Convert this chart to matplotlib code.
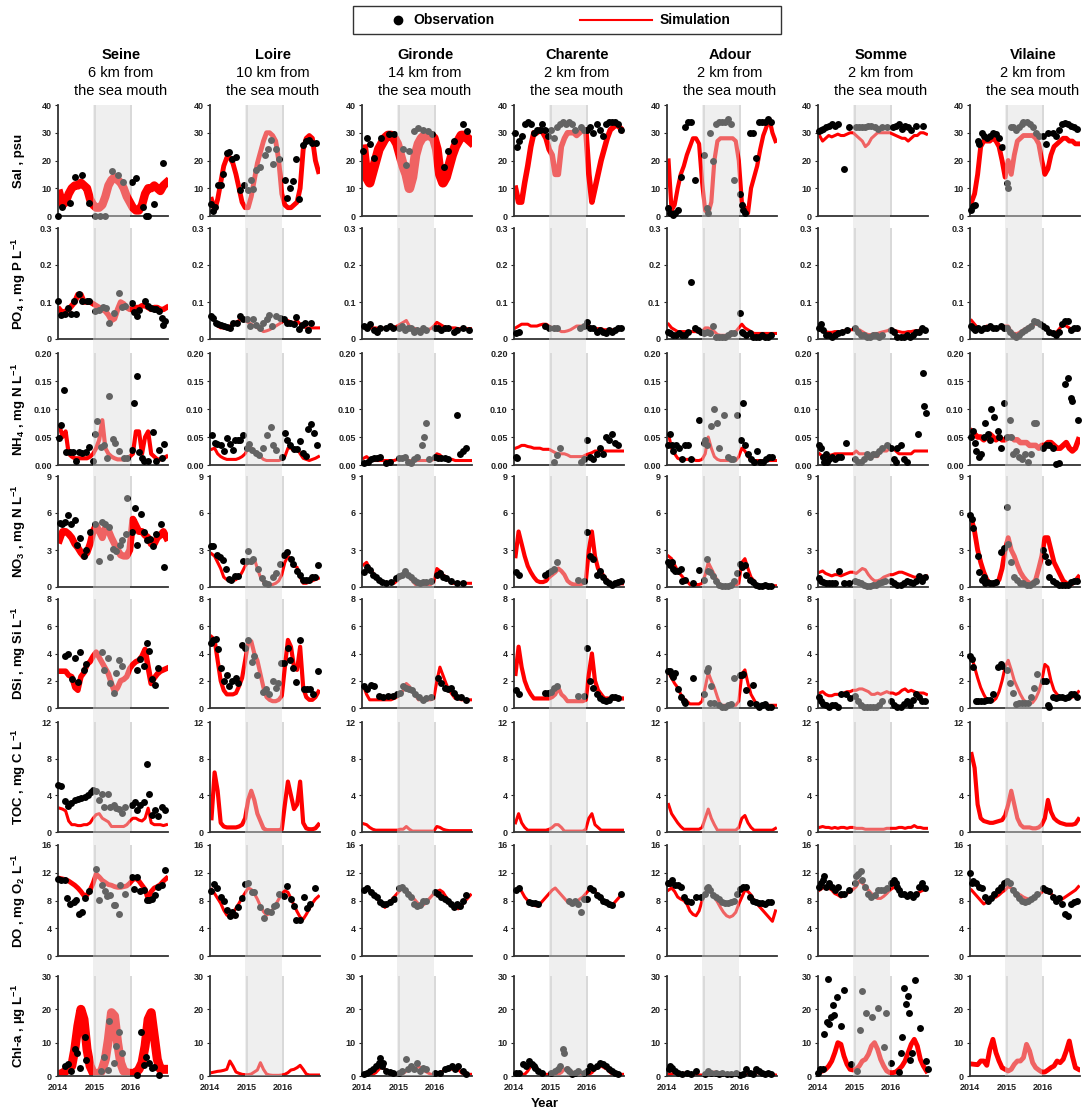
import numpy as np
import matplotlib.pyplot as plt
import matplotlib.transforms as mtransforms
from matplotlib.patches import Rectangle
from matplotlib.lines import Line2D

plt.rcParams['font.family'] = ['Liberation Sans', 'DejaVu Sans']
plt.rcParams['font.weight'] = 'bold'
plt.rcParams['mathtext.fontset'] = 'custom'
plt.rcParams['mathtext.rm'] = 'Liberation Sans:bold'
plt.rcParams['mathtext.bf'] = 'Liberation Sans:bold'
plt.rcParams['mathtext.default'] = 'bf'

# ---- stations / variables ----
stations = ["Seine", "Loire", "Gironde", "Charente", "Adour", "Somme", "Vilaine"]
keys = ["seine", "loire", "gironde", "charente", "adour", "somme", "vilaine"]
distance = ["6 km from", "10 km from", "14 km from", "2 km from", "2 km from", "2 km from", "2 km from"]
variables = ["sal", "po4", "nh4", "no3", "dsi", "toc", "do", "chl"]
ylabels = ["Sal , psu", "PO$_4$ , mg P L$^{-1}$", "NH$_4$ , mg N L$^{-1}$", "NO$_3$ , mg N L$^{-1}$",
           "DSi , mg Si L$^{-1}$", "TOC , mg C L$^{-1}$", "DO , mg O$_2$ L$^{-1}$", "Chl-a , µg L$^{-1}$"]
ymax = [40, 0.3, 0.2, 9, 8, 12, 16, 30]
yticks = [[0, 10, 20, 30, 40], [0, 0.1, 0.2, 0.3], [0, 0.05, 0.10, 0.15, 0.20], [0, 3, 6, 9],
          [0, 2, 4, 6, 8], [0, 4, 8, 12], [0, 4, 8, 12, 16], [0, 10, 20, 30]]
yticklabels = [["0", "10", "20", "30", "40"], ["0", "0.1", "0.2", "0.3"], ["0.00", "0.05", "0.10", "0.15", "0.20"],
               ["0", "3", "6", "9"], ["0", "2", "4", "6", "8"], ["0", "4", "8", "12"],
               ["0", "4", "8", "12", "16"], ["0", "10", "20", "30"]]
year_ticks = [0, 12, 24]          # months since Jan 2014
year_labels = ["2014", "2015", "2016"]

# simulation: monthly values Jan 2014 .. Dec 2016
# observations: *_t = months since Jan 2014, *_o = value
seine_sal = [8, 4, 5, 8, 10, 11, 11, 12, 11, 10, 6, 4, 3, 3, 4, 7, 11, 13, 14, 13, 12, 10, 7, 5, 3, 2, 2, 4, 8, 10, 10, 11, 10, 9, 11, 12]
seine_sal_t = [0, 1.4, 3.8, 5.6, 8, 10, 12, 13.6, 15.5, 17.7, 19.6, 21.4, 24.1, 25.6, 27.7, 28.8, 29.3, 31.5, 34.5]
seine_sal_o = [0, 3.3, 4.8, 14, 14.7, 4.8, 0, 0, 0, 16.3, 14.6, 12.3, 12.3, 13.6, 3.2, 0, 0, 4.3, 19]
seine_po4 = [0.08, 0.07, 0.075, 0.08, 0.09, 0.1, 0.12, 0.12, 0.1, 0.1, 0.1, 0.095, 0.09, 0.085, 0.08, 0.075, 0.065, 0.05,
             0.055, 0.08, 0.1, 0.095, 0.085, 0.08, 0.08, 0.085, 0.085, 0.09, 0.09, 0.085, 0.08, 0.085, 0.085, 0.08, 0.08, 0.085]
seine_po4_t = [0, 1.1, 2.2, 3.3, 4.1, 5.1, 6, 6.8, 8, 9.5, 10.3, 12.2, 13.3, 14.7, 15.8, 16.6, 18.2, 19.8, 20.8, 22, 24.1,
               24.9, 26, 26.6, 28.5, 29.6, 30.4, 31.3, 32, 33.2, 33.9, 34.5, 35.1]
seine_po4_o = [0.102, 0.065, 0.068, 0.085, 0.068, 0.102, 0.068, 0.122, 0.102, 0.102, 0.102, 0.077, 0.078, 0.087, 0.085,
               0.042, 0.071, 0.125, 0.087, 0.09, 0.098, 0.074, 0.062, 0.078, 0.102, 0.09, 0.085, 0.08, 0.08, 0.077, 0.058,
               0.038, 0.048]
seine_nh4 = [0.07, 0.05, 0.06, 0.02, 0.015, 0.012, 0.012, 0.012, 0.012, 0.012, 0.015, 0.02, 0.03, 0.045, 0.08, 0.03, 0.02,
             0.015, 0.012, 0.01, 0.01, 0.01, 0.01, 0.015, 0.02, 0.06, 0.06, 0.02, 0.05, 0.06, 0.02, 0.015, 0.01, 0.01, 0.012, 0.015]
seine_nh4_t = [0.3, 1.1, 2, 2.7, 3.8, 4.9, 6, 6.8, 8, 9, 10.1, 11.4, 12.2, 12.9, 14.1, 15.2, 16, 16.6, 17.9, 18.8, 19.8,
               21.7, 22.6, 24.2, 25, 25.7, 26.6, 27.4, 28.1, 29.3, 31, 32, 32.9, 33.9, 34.8]
seine_nh4_o = [0.048, 0.072, 0.134, 0.024, 0.024, 0.024, 0.007, 0.024, 0.021, 0.024, 0.032, 0.007, 0.055, 0.078, 0.032,
               0.036, 0.012, 0.123, 0.046, 0.04, 0.025, 0.012, 0.012, 0.027, 0.111, 0.159, 0.024, 0.012, 0.008, 0.007,
               0.059, 0.007, 0.026, 0.012, 0.037]
seine_no3 = [3.8, 4.5, 4.5, 4.3, 4.0, 3.5, 3.2, 2.8, 2.5, 2.8, 3.5, 4.5, 5.0, 4.5, 4.0, 4.8, 4.6, 4.0, 3.5, 3.0, 2.6, 2.5,
             2.5, 3.0, 5.5, 5.0, 4.5, 4.5, 4.2, 4.0, 3.5, 3.5, 4.0, 4.2, 4.5, 4.0]
seine_no3_t = [0.5, 1.3, 2.2, 3.4, 4.2, 5.4, 6.3, 7.3, 8.4, 9.2, 10.5, 12, 13.3, 14.5, 15.5, 16.6, 17, 18, 19, 20.2, 21.1,
               22.3, 22.7, 24.3, 25.1, 26, 27, 28.2, 29.1, 30, 31, 32, 33.7, 34.8]
seine_no3_o = [5.2, 5.1, 5.3, 5.8, 5.1, 5.4, 3.4, 4, 2.5, 3, 4.5, 5.1, 2.1, 5.3, 5.1, 4.9, 2.4, 3.1, 2.9, 3.4, 3.8, 4.3,
               7.2, 4.5, 6.4, 3.4, 5.9, 4.5, 3.8, 3.9, 3.3, 4.3, 5.1, 1.6]
seine_dsi = [2.7, 2.7, 2.7, 2.4, 2.3, 1.5, 1.3, 2.3, 2.6, 3.2, 3.4, 3.8, 4.1, 3.7, 3.3, 2.9, 2.5, 1.8, 1.2, 1.5, 2.0, 2.1,
             2.3, 2.9, 3.2, 3.4, 3.5, 3.8, 4.3, 3.0, 1.8, 2.2, 2.5, 2.7, 2.8, 2.9]
seine_dsi_t = [2.4, 3.3, 4.6, 5.7, 6.5, 7.3, 8.4, 9.2, 14.3, 15.2, 16.3, 17.1, 18.2, 19, 20, 20.9, 26, 26.8, 28, 29, 29.8,
               30.7, 31.7, 32.6]
seine_dsi_o = [3.85, 4.0, 2.1, 3.7, 1.9, 4.1, 2.8, 3.2, 4.1, 2.8, 3.7, 1.8, 1.1, 2.6, 3.5, 3.1, 2.8, 3.6, 3.1, 4.8, 4.2,
               2.1, 1.7, 2.9]
seine_toc = [2.6, 2.5, 2.3, 1.2, 0.8, 0.8, 0.7, 0.7, 0.8, 0.8, 1.0, 1.5, 1.9, 2.0, 1.5, 1.3, 1.1, 0.6, 0.6, 0.6, 0.6, 0.6,
             0.8, 1.2, 1.5, 1.5, 1.3, 1.2, 1.5, 2.6, 1.0, 0.8, 0.8, 0.8, 0.7, 0.8]
seine_toc_t = [0, 1.1, 2.2, 3.3, 4.3, 5.4, 6.5, 7.6, 8.7, 9.8, 10.9, 11.6, 12.5, 13.3, 14.3, 15.2, 16.3, 17.1, 18.2, 19, 20,
               20.9, 22, 24.1, 25.2, 26, 26.8, 28, 29, 29.8, 30.9, 31.7, 32.6, 33.9, 35]
seine_toc_o = [5.1, 5.0, 3.4, 2.8, 3.2, 3.5, 3.6, 3.7, 3.8, 4.0, 4.4, 4.6, 4.5, 3.5, 4.1, 2.7, 4.2, 2.7, 2.9, 2.6, 2.5, 2.1,
               2.7, 2.9, 3.3, 2.4, 2.9, 3.3, 7.4, 4.2, 1.9, 2.4, 1.8, 2.7, 2.4]
seine_do = [11.2, 11.1, 11.0, 10.8, 10.5, 10.2, 9.8, 9.3, 8.7, 8.8, 9.5, 10.5, 11.8, 11.4, 10.9, 10.6, 10.3, 10.2, 10.0,
            9.9, 9.9, 10.0, 10.1, 10.5, 11.0, 11.2, 10.8, 10.2, 9.6, 8.2, 9.3, 9.8, 10.0, 10.3, 10.8, 11.2]
seine_do_t = [0, 1.1, 2.2, 2.9, 4, 5.1, 5.9, 7, 8, 8.9, 10, 12.5, 13.3, 14.3, 15.4, 16, 17.1, 18.2, 18.7, 19.8, 20.3, 22,
              24.1, 25, 26, 26.8, 28, 29, 29.8, 30.7, 31.7, 32.6, 33.9, 35]
seine_do_o = [11.1, 11, 10.9, 8.3, 7.5, 7.8, 8.1, 6, 6.4, 8.3, 9.4, 12.6, 8.1, 10.3, 9.4, 8.6, 8.8, 7.3, 7.3, 6.1, 10.2,
              8.9, 11.4, 9.7, 11.4, 9.4, 9.5, 8.1, 8.1, 8.2, 8.8, 9.9, 10.3, 12.4]
seine_chl = [0.5, 0.8, 1.5, 2.5, 3, 8, 15, 20, 17, 8, 3, 1, 0.5, 0.5, 2, 5, 11, 19, 18, 10, 4, 1.5, 1, 0.8, 0.8, 1, 2, 4,
             9, 17, 19, 12, 5, 2, 2, 2]
seine_chl_t = [2.2, 3.3, 4.3, 5.4, 6.3, 7.3, 8.7, 9.2, 14.1, 15.2, 16.3, 16.8, 18.2, 19, 19.9, 21, 26, 27.2, 28, 28.8, 29.9,
               30.8, 31.5, 33]
seine_chl_o = [3, 3.6, 1.6, 8, 7, 2.3, 11.8, 4.8, 1.6, 5.8, 1.8, 16.6, 3.8, 9, 13.3, 6.8, 0.3, 13.3, 3.3, 5.8, 4, 2.3,
               2.6, 0.3]

loire_sal = [6, 2, 6, 12, 18, 21, 21, 19, 15, 10, 5, 3, 3, 7, 13, 19, 23, 27, 30, 30, 29, 27, 20, 8, 4, 3, 3, 4, 5, 10,
             24, 28, 29, 28, 20, 16]
loire_sal_t = [0.2, 0.9, 1.6, 2.7, 3.5, 4.3, 5.4, 6.3, 7.3, 8.5, 9.8, 11.2, 12.5, 13.3, 14.1, 15, 16.5, 17.9, 19, 19.8,
               20.7, 21.6, 22.7, 24.5, 25.2, 26.1, 27.2, 28.3, 29.2, 30.4, 31.5, 32.4, 33.5, 34.6]
loire_sal_o = [4.5, 1.8, 3.2, 11.1, 11.1, 15.2, 22.7, 22.9, 20.7, 21.3, 9.3, 11.1, 9.3, 12.8, 9.8, 16.4, 17.7, 22.1, 24.2,
               27.5, 18.6, 24.2, 20.7, 12.9, 6.6, 10.1, 12.5, 20.5, 6.2, 25.7, 26.9, 27.5, 26.3, 26.3]
loire_po4 = [0.06, 0.05, 0.035, 0.03, 0.03, 0.03, 0.035, 0.04, 0.045, 0.05, 0.055, 0.05, 0.045, 0.04, 0.035, 0.03, 0.025,
             0.02, 0.022, 0.025, 0.03, 0.035, 0.04, 0.045, 0.05, 0.05, 0.045, 0.045, 0.05, 0.04, 0.035, 0.03, 0.03, 0.03,
             0.03, 0.03]
loire_po4_t = [0.2, 1.1, 2, 2.7, 3.5, 4.6, 5.4, 6.5, 7.6, 8.7, 9.8, 10.9, 12.2, 13, 14.1, 15.2, 16.5, 17.4, 18.5, 19.3,
               20.4, 21.6, 22.8, 24.1, 25.2, 26.3, 27.4, 28, 29, 30.2, 31, 32, 33.2]
loire_po4_o = [0.061, 0.058, 0.044, 0.04, 0.037, 0.035, 0.033, 0.031, 0.042, 0.042, 0.061, 0.053, 0.055, 0.036, 0.055,
               0.037, 0.031, 0.042, 0.055, 0.064, 0.035, 0.061, 0.058, 0.053, 0.044, 0.042, 0.04, 0.06, 0.028, 0.037,
               0.044, 0.024, 0.042]
loire_nh4 = [0.028, 0.03, 0.02, 0.015, 0.012, 0.01, 0.01, 0.01, 0.01, 0.012, 0.015, 0.02, 0.03, 0.03, 0.025, 0.02, 0.015,
             0.01, 0.008, 0.008, 0.008, 0.008, 0.008, 0.01, 0.015, 0.03, 0.03, 0.025, 0.03, 0.02, 0.012, 0.01, 0.008, 0.01,
             0.012, 0.015]
loire_nh4_t = [0.5, 1.6, 2.4, 3.5, 4.6, 5.4, 6.5, 7.4, 8.2, 9, 9.8, 10.9, 12.2, 12.8, 13.9, 15, 16.1, 17.4, 18.5, 19.8,
               20.7, 21.7, 23.4, 24.5, 25.2, 26.3, 27.4, 28.5, 29.3, 30.4, 31.3, 32.1, 33.2, 34, 35]
loire_nh4_o = [0.054, 0.04, 0.037, 0.035, 0.025, 0.048, 0.037, 0.027, 0.045, 0.045, 0.045, 0.053, 0.031, 0.037, 0.027,
               0.021, 0.017, 0.031, 0.054, 0.067, 0.036, 0.027, 0.015, 0.058, 0.045, 0.036, 0.028, 0.028, 0.043, 0.022,
               0.016, 0.064, 0.073, 0.057, 0.036]
loire_no3 = [2.7, 2.5, 2.0, 1.5, 0.8, 0.6, 0.6, 0.5, 0.6, 0.8, 1.2, 1.7, 2.0, 1.9, 2.3, 1.5, 0.8, 0.4, 0.3, 0.2, 0.2, 0.3,
             0.5, 1.0, 2.0, 2.5, 2.2, 1.7, 1.6, 0.8, 0.3, 0.3, 0.4, 0.5, 0.6, 0.7]
loire_no3_t = [0.2, 1.1, 2.2, 3.3, 4.1, 5.1, 6.1, 7, 8.2, 9.3, 10.7, 12, 12.5, 13.4, 14.2, 15.6, 17.1, 18, 18.9, 20.5, 21.6,
               22.9, 24.2, 25.3, 26.4, 27.3, 28.5, 29.5, 30.5, 31.4, 32.5, 33.5, 34.3, 35.3]
loire_no3_o = [3.3, 3.3, 2.6, 2.4, 2.2, 1.5, 0.65, 0.55, 0.9, 0.9, 2.1, 2.1, 2.9, 2.1, 2.3, 1.5, 0.7, 0.3, 0.25, 0.8, 1.1,
               1.9, 2.6, 2.8, 2.3, 1.9, 1.3, 1.0, 0.6, 0.55, 0.6, 0.8, 0.8, 1.8]
loire_dsi = [5.2, 5.0, 3.5, 2.0, 1.3, 1.0, 1.0, 1.0, 1.1, 1.6, 2.2, 3.5, 4.8, 4.9, 4.0, 3.5, 2.5, 1.5, 0.8, 0.6, 0.5, 0.5,
             0.6, 0.9, 3.0, 5.0, 4.5, 3.0, 2.8, 4.5, 1.5, 0.8, 0.6, 0.6, 0.8, 1.2]
loire_dsi_t = [0.2, 1.1, 1.8, 2.6, 3.7, 4.6, 5.4, 6.2, 7.3, 8.4, 9.2, 10.5, 11.3, 12.5, 13.6, 14.3, 15.4, 17.3, 18.2, 19.2,
               20.6, 21.7, 22.2, 23.3, 24.3, 25.4, 26.3, 27.2, 28.3, 29.3, 30.7, 31.7, 32.6, 33.7, 35.2]
loire_dsi_o = [4.8, 5.0, 5.1, 4.3, 2.9, 2.0, 2.4, 1.6, 2.0, 2.2, 1.8, 4.6, 4.4, 5.0, 3.4, 3.8, 2.4, 1.2, 1.4, 1.0, 2.0, 1.5,
               1.8, 3.3, 3.3, 4.4, 3.5, 2.9, 1.9, 5.0, 1.4, 1.4, 1.4, 1.0, 2.7]
loire_toc = [1.5, 6.5, 4.5, 1.0, 0.6, 0.5, 0.5, 0.5, 0.5, 0.6, 0.8, 1.5, 3.5, 4.5, 3.5, 2.0, 1.2, 0.4, 0.2, 0.2, 0.2, 0.2,
             0.2, 0.3, 3.0, 5.5, 4.0, 2.5, 3.0, 5.5, 1.0, 0.4, 0.3, 0.3, 0.4, 0.8]
loire_do = [9.6, 9.0, 8.3, 7.6, 6.6, 5.9, 5.6, 6.2, 6.9, 7.6, 8.4, 9.1, 9.8, 9.6, 9.0, 8.2, 7.2, 6.4, 5.9, 6.1, 6.7, 7.4,
            8.2, 9.0, 9.4, 9.2, 8.3, 7.3, 6.4, 5.6, 5.3, 6.0, 6.8, 7.6, 8.2, 8.6]
loire_do_t = [0.2, 1.3, 2.4, 3.5, 4.6, 5.4, 6.5, 7.3, 8.2, 9.2, 10.5, 11.3, 12.5, 13.6, 14.3, 16.5, 17.6, 18.7, 19.8, 20.9,
              21.6, 22.7, 24.1, 25.2, 26.5, 27.4, 28.3, 29.6, 30.7, 31.7, 32.6, 34.5]
loire_do_o = [9.4, 10.4, 9.8, 8.5, 7.9, 6.7, 5.7, 6.4, 5.9, 7.1, 8.4, 10.4, 10.5, 9.2, 9.2, 7.1, 5.5, 6.5, 6.3, 7.2, 7.3,
              8.9, 8.7, 10.1, 8.2, 7.2, 5.2, 5.2, 8.5, 6.9, 7.5, 9.8]
loire_chl = [1.0, 1.2, 1.4, 1.5, 1.7, 2.0, 4.5, 3.0, 1.2, 0.8, 0.5, 0.4, 0.4, 0.6, 1.2, 1.8, 4.0, 2.0, 0.6, 0.3, 0.2, 0.2,
             0.2, 0.3, 0.5, 1.0, 1.8, 2.0, 2.5, 3.2, 2.0, 0.6, 0.3, 0.3, 0.3, 0.3]

gironde_sal = [24, 14, 12, 16, 20, 24, 26, 28, 29, 29, 28, 26, 22, 18, 15, 10, 14, 22, 26, 28, 29, 29, 29, 28, 24, 15, 12,
               14, 18, 22, 25, 27, 29, 29, 28, 27]
gironde_sal_t = [0.4, 1.5, 2.5, 4, 6.2, 8.8, 10.4, 13.3, 14.4, 15.5, 17, 18.2, 19.8, 21.5, 23, 26.8, 28.3, 30, 32.9, 34.5]
gironde_sal_o = [23.5, 28, 26, 21, 28, 29.4, 29.4, 24, 18.4, 23.5, 30.6, 31.8, 31, 30.6, 29.4, 17.6, 23.5, 27, 33, 30.6]
gironde_po4 = [0.035, 0.03, 0.03, 0.03, 0.03, 0.028, 0.028, 0.03, 0.03, 0.03, 0.03, 0.035, 0.04, 0.045, 0.05, 0.035, 0.03,
               0.028, 0.025, 0.025, 0.025, 0.025, 0.028, 0.035, 0.045, 0.04, 0.035, 0.03, 0.03, 0.03, 0.03, 0.028, 0.028,
               0.028, 0.028, 0.028]
gironde_po4_t = [0.5, 1.5, 2.5, 4, 5, 6, 8, 9, 10, 12, 13, 14, 15, 16, 17, 18, 19, 20, 21, 24, 25, 26, 27, 28, 30, 31, 33, 35]
gironde_po4_o = [0.035, 0.03, 0.04, 0.025, 0.02, 0.03, 0.03, 0.035, 0.03, 0.03, 0.035, 0.025, 0.03, 0.03, 0.02, 0.025,
                 0.02, 0.03, 0.025, 0.03, 0.03, 0.025, 0.03, 0.03, 0.02, 0.025, 0.03, 0.025]
gironde_nh4 = [0.012, 0.015, 0.01, 0.008, 0.008, 0.008, 0.008, 0.008, 0.008, 0.008, 0.008, 0.01, 0.012, 0.012, 0.01, 0.008,
               0.008, 0.008, 0.008, 0.008, 0.008, 0.008, 0.008, 0.01, 0.02, 0.018, 0.012, 0.01, 0.01, 0.01, 0.008, 0.008,
               0.008, 0.008, 0.008, 0.008]
gironde_nh4_t = [0.5, 2, 3, 4, 5, 6, 8, 9, 12, 13, 14, 15, 16, 17, 18, 19.5, 20.3, 21, 22, 24, 25, 26, 27, 28, 31, 32, 33, 34]
gironde_nh4_o = [0.003, 0.005, 0.01, 0.012, 0.012, 0.015, 0.003, 0.005, 0.012, 0.012, 0.015, 0.005, 0.003, 0.01, 0.015,
                 0.035, 0.05, 0.075, 0.01, 0.015, 0.012, 0.012, 0.012, 0.01, 0.09, 0.02, 0.025, 0.03]
gironde_no3 = [1.8, 2.0, 1.5, 1.2, 0.8, 0.5, 0.3, 0.3, 0.3, 0.3, 0.3, 0.5, 0.8, 1.0, 1.2, 0.8, 0.5, 0.2, 0.2, 0.2, 0.2,
               0.2, 0.2, 0.4, 1.5, 1.3, 1.0, 0.8, 0.5, 0.3, 0.3, 0.3, 0.3, 0.3, 0.3, 0.3]
gironde_no3_t = [0.5, 1.5, 2.5, 3.5, 4.5, 5.5, 6.5, 8, 9.5, 11, 12, 13, 14, 15, 16, 17, 18, 19, 20, 21, 22.5, 24.5, 25.5,
                 26.5, 27.5, 29, 31, 33]
gironde_no3_o = [1.2, 1.6, 1.4, 1.0, 0.8, 0.6, 0.4, 0.3, 0.4, 0.7, 0.9, 1.0, 1.3, 1.0, 0.8, 0.6, 0.4, 0.3, 0.4, 0.4, 0.5,
                 1.0, 1.1, 0.8, 0.7, 0.5, 0.3, 0.3]
gironde_dsi = [1.6, 1.0, 0.6, 0.6, 0.6, 0.6, 0.6, 0.6, 0.6, 0.6, 0.7, 0.8, 1.0, 1.3, 1.8, 1.6, 1.2, 0.9, 0.6, 0.6, 0.6,
               0.6, 0.6, 0.7, 2.0, 3.0, 2.4, 1.8, 1.3, 1.0, 0.7, 0.7, 0.6, 0.6, 0.6, 0.6]
gironde_dsi_t = [0.5, 1.5, 3, 4, 5.5, 7, 8.5, 10, 11.5, 12.5, 13.5, 14.5, 15.5, 16.5, 17.5, 18.5, 20, 21, 22.5, 25, 26,
                 27, 28, 29, 30, 31, 32.5, 34]
gironde_dsi_o = [1.6, 1.4, 1.7, 1.6, 0.9, 0.8, 0.9, 0.9, 1.0, 1.1, 1.6, 1.5, 1.4, 1.3, 1.0, 0.8, 0.6, 0.7, 0.8, 2.2, 1.8,
                 1.5, 1.4, 1.5, 1.1, 0.8, 0.8, 0.6]
gironde_toc = [0.9, 0.8, 0.5, 0.3, 0.2, 0.2, 0.2, 0.2, 0.2, 0.2, 0.2, 0.2, 0.3, 0.3, 0.6, 0.3, 0.1, 0.1, 0.1, 0.1, 0.1,
               0.1, 0.1, 0.1, 0.6, 0.5, 0.3, 0.2, 0.15, 0.15, 0.15, 0.15, 0.15, 0.15, 0.15, 0.15]
gironde_do = [9.5, 9.8, 9.5, 9, 8.5, 8, 7.5, 7, 7.5, 8, 8.5, 9, 9.5, 9.8, 9.5, 9, 8.5, 8, 7.5, 7.2, 7.5, 8, 8.5, 9, 9.3,
              9.5, 9.2, 8.5, 8, 7.5, 7, 6.8, 7.2, 7.8, 8.3, 8.8]
gironde_do_t = [0.5, 1.5, 3, 4, 5, 6, 7, 8, 9, 10.5, 12, 13, 14, 15, 16, 17, 18, 19, 20, 21, 24, 25, 26, 27, 28, 29, 30,
                31, 32, 33, 34]
gironde_do_o = [9.5, 9.8, 9.2, 8.8, 8.5, 7.8, 7.5, 7.5, 7.8, 8.2, 9.8, 10, 9.5, 9, 8.5, 7.5, 7.2, 7.3, 8, 8, 9.2, 9, 8.5,
                8.2, 8, 7.5, 7.0, 7.5, 7.2, 8, 8.8]
gironde_chl = [0.5, 0.5, 0.5, 0.5, 1.0, 2.0, 3.0, 2.0, 1.0, 0.5, 0.5, 0.5, 0.5, 0.8, 1.5, 2.0, 2.5, 2.0, 3.0, 2.0, 1.5,
               1.0, 0.5, 0.5, 0.5, 1.0, 1.5, 2.0, 2.5, 2.0, 2.5, 2.0, 1.0, 0.5, 0.5, 0.5]
gironde_chl_t = [0.5, 1.5, 2.5, 3.5, 4.5, 5.5, 6, 6.5, 7, 8, 9, 10, 12, 13, 14.5, 15, 16, 17, 18, 19, 20, 21, 24, 25.5,
                 27, 28, 29.5, 30.5, 31.5, 33, 34]
gironde_chl_o = [0.5, 1, 1.5, 2, 3, 4, 5.5, 3, 4, 1.5, 1.2, 1, 0.8, 1.5, 5, 2, 3, 2, 4, 1.5, 2.5, 2, 1, 1, 2, 2.5, 3, 2, 3,
                 1.5, 0.5]

charente_sal = [10, 5, 5, 12, 18, 25, 30, 30, 31, 30, 28, 24, 22, 15, 15, 25, 28, 30, 30, 30, 29, 30, 31, 31, 15, 5, 10,
                15, 20, 24, 28, 31, 32, 33, 32, 31]
charente_sal_t = [0.3, 1, 1.5, 2.5, 3.5, 4.5, 5.5, 6.5, 7.5, 8.5, 9, 10, 11, 12, 13, 14, 15, 16, 17, 18, 19, 20, 22, 23,
                  24, 25, 26, 27, 28, 29, 30, 31, 32, 33, 34, 35]
charente_sal_o = [30, 25, 27, 29, 33, 34, 33, 30, 31, 31, 33, 31, 29, 31, 28, 32, 33, 34, 33, 34, 33, 31, 32, 31, 31, 32,
                  30, 33, 31, 29, 33, 34, 34, 34, 33, 31]
charente_po4 = [0.03, 0.035, 0.04, 0.04, 0.04, 0.035, 0.035, 0.035, 0.038, 0.04, 0.04, 0.035, 0.03, 0.025, 0.025, 0.02,
                0.02, 0.022, 0.025, 0.03, 0.035, 0.035, 0.035, 0.038, 0.035, 0.03, 0.028, 0.028, 0.028, 0.025, 0.025,
                0.025, 0.025, 0.025, 0.028, 0.028]
charente_po4_t = [0.5, 1.5, 10, 11.5, 13, 14, 21.5, 23, 24, 25, 26, 27, 28, 29, 30, 31, 32, 33, 34, 35]
charente_po4_o = [0.015, 0.02, 0.035, 0.03, 0.03, 0.03, 0.03, 0.035, 0.045, 0.03, 0.03, 0.02, 0.025, 0.02, 0.015, 0.025,
                  0.02, 0.025, 0.03, 0.03]
charente_nh4 = [0.03, 0.032, 0.035, 0.035, 0.033, 0.032, 0.03, 0.03, 0.03, 0.028, 0.028, 0.028, 0.025, 0.022, 0.02, 0.02,
                0.02, 0.018, 0.015, 0.015, 0.015, 0.015, 0.015, 0.018, 0.02, 0.022, 0.025, 0.025, 0.025, 0.025, 0.025,
                0.025, 0.025, 0.025, 0.025, 0.025]
charente_nh4_t = [0.5, 1, 13, 14, 15, 22, 23, 24, 25, 26, 27, 28, 29, 30, 31, 32, 33, 34]
charente_nh4_o = [0.015, 0.012, 0.005, 0.018, 0.03, 0.005, 0.01, 0.045, 0.015, 0.01, 0.02, 0.03, 0.02, 0.05, 0.045,
                  0.055, 0.04, 0.035]
charente_no3 = [2.5, 4.5, 3.5, 2.5, 1.7, 1.2, 0.8, 0.5, 0.4, 0.4, 0.5, 0.8, 1.0, 1.2, 1.5, 1.3, 1.0, 0.5, 0.3, 0.2, 0.2,
                0.2, 0.3, 0.5, 3.0, 4.5, 2.5, 1.5, 1.2, 0.8, 0.5, 0.3, 0.2, 0.2, 0.3, 0.3]
charente_no3_t = [0.5, 1.5, 10, 11, 12, 13, 14, 21, 23, 24, 25, 26, 27, 28, 29, 30, 31, 32, 33, 34, 35]
charente_no3_o = [1.2, 1.0, 1.0, 1.1, 1.3, 1.5, 2.0, 0.6, 0.5, 4.5, 2.5, 2.3, 1.0, 1.3, 0.8, 0.5, 0.3, 0.2, 0.3, 0.4, 0.5]
charente_dsi = [2.5, 4.5, 3.0, 2.0, 1.4, 1.0, 0.7, 0.7, 0.7, 0.7, 0.7, 0.7, 0.8, 1.0, 1.5, 1.0, 0.8, 0.5, 0.5, 0.5, 0.5,
                0.5, 0.5, 0.6, 2.5, 4.0, 2.0, 1.3, 1.0, 0.7, 0.7, 0.7, 0.7, 0.7, 0.7, 0.7]
charente_dsi_t = [0.5, 1.5, 10, 11, 12, 13, 14, 21, 23, 24, 25, 26, 27, 28, 29, 30, 31, 32, 33, 34]
charente_dsi_o = [1.3, 1.0, 1.1, 1.1, 1.2, 1.5, 1.6, 0.9, 0.9, 4.4, 2.0, 1.5, 1.0, 0.7, 0.6, 0.5, 0.6, 0.8, 0.8, 0.7]
charente_toc = [1.0, 2.0, 1.0, 0.5, 0.2, 0.2, 0.2, 0.2, 0.2, 0.2, 0.2, 0.3, 0.5, 0.8, 0.8, 0.5, 0.1, 0.1, 0.1, 0.1, 0.1,
                0.1, 0.1, 0.3, 1.5, 2.0, 0.8, 0.5, 0.2, 0.2, 0.2, 0.2, 0.2, 0.2, 0.2, 0.2]
charente_do = [9.5, 9.8, 9.3, 8.5, 8.0, 7.5, 7.3, 7.2, 7.5, 8.0, 8.5, 9.0, 9.5, 9.8, 9.3, 8.8, 8.3, 7.8, 7.5, 7.6, 7.8,
               8.2, 8.5, 9.0, 9.5, 9.8, 9.3, 8.8, 8.2, 7.8, 7.5, 7.3, 7.5, 8.0, 8.5, 9.0]
charente_do_t = [0.5, 1.5, 5, 6, 7, 8, 18, 19, 20, 21, 22, 23, 24, 25, 26, 27, 28, 29, 30, 31, 32, 35]
charente_do_o = [9.5, 9.8, 7.8, 7.6, 7.6, 7.5, 7.9, 7.6, 8.0, 7.5, 6.3, 8.2, 8.2, 9.8, 9.5, 8.8, 8.5, 8.0, 7.8, 7.5, 7.3,
                 9.0]
charente_chl = [0.5, 0.5, 0.5, 0.5, 1.5, 3.0, 3.5, 2.0, 1.0, 0.5, 0.5, 0.5, 0.5, 0.5, 0.5, 1.0, 2.0, 2.5, 1.5, 1.0, 1.0,
                0.5, 0.5, 0.5, 0.5, 1.0, 2.0, 2.5, 3.0, 2.5, 2.0, 1.0, 0.5, 0.5, 0.5, 0.5]
charente_chl_t = [0.5, 1.5, 3, 4, 5, 6, 6.5, 7, 8, 9, 12, 13.5, 14.5, 15, 16, 16.5, 17.5, 18, 19, 20, 21, 23, 24, 25, 26,
                  27, 28, 29, 30, 31, 32, 33, 34]
charente_chl_o = [1, 1, 3.5, 3, 4.5, 3.5, 3, 2.5, 1.5, 1, 1, 1.5, 2, 3, 8, 7, 2, 1.5, 0.5, 1, 1.5, 1, 1.5, 3, 2.5, 3, 4,
                  3.5, 3, 2, 1.5, 1, 0.5]

adour_sal = [20, 2, 4, 10, 15, 18, 22, 25, 28, 28, 26, 12, 2, 1, 5, 20, 27, 28, 28, 28, 28, 28, 27, 20, 5, 3, 1, 10, 14,
             18, 24, 29, 32, 35, 30, 27]
adour_sal_t = [0.3, 1, 1.8, 2.5, 3.5, 4.5, 6, 7, 8, 9, 12, 13, 13.5, 14, 15, 16, 17, 18, 19, 20, 21, 22, 24, 24.5, 25,
               25.5, 27, 28, 29, 30, 31, 32, 33, 34]
adour_sal_o = [3, 1, 0.5, 1, 2, 14, 32, 34, 34, 13, 22, 3, 1, 30, 20, 33, 34, 34, 34, 35, 33, 13, 8, 4, 2, 1, 30, 30, 21,
               34, 34, 34, 35, 34]
adour_po4 = [0.04, 0.03, 0.025, 0.02, 0.02, 0.02, 0.02, 0.02, 0.02, 0.02, 0.02, 0.02, 0.03, 0.03, 0.025, 0.02, 0.012,
             0.01, 0.01, 0.01, 0.01, 0.015, 0.02, 0.03, 0.04, 0.03, 0.025, 0.02, 0.015, 0.015, 0.015, 0.015, 0.015,
             0.015, 0.015, 0.015]
adour_po4_t = [0.3, 1, 2, 3, 4, 5, 6, 7, 7.8, 9, 10, 11, 12, 13, 14, 15, 16, 17, 18, 19, 20, 21, 22, 23.8, 24.5, 25, 26,
               27, 28, 29, 30, 31, 32, 33, 34]
adour_po4_o = [0.02, 0.015, 0.01, 0.01, 0.015, 0.01, 0.01, 0.02, 0.155, 0.03, 0.025, 0.02, 0.015, 0.02, 0.015, 0.035,
               0.005, 0.005, 0.005, 0.005, 0.01, 0.015, 0.015, 0.07, 0.02, 0.015, 0.01, 0.015, 0.005, 0.005, 0.005,
               0.01, 0.005, 0.005, 0.01]
adour_nh4 = [0.055, 0.03, 0.02, 0.012, 0.01, 0.01, 0.01, 0.01, 0.01, 0.008, 0.008, 0.01, 0.02, 0.05, 0.03, 0.015, 0.01,
             0.008, 0.008, 0.008, 0.008, 0.008, 0.008, 0.015, 0.03, 0.025, 0.015, 0.01, 0.008, 0.008, 0.008, 0.008,
             0.008, 0.008, 0.008, 0.008]
adour_nh4_t = [0.3, 1, 1.5, 2, 3, 4, 5, 6, 7, 8, 10.5, 12, 12.5, 13, 14.5, 15.5, 16.5, 17, 18.5, 20, 21, 21.5, 23, 24.3,
               24.8, 25.5, 26.5, 27.5, 28.5, 29.5, 30.5, 31.5, 32.5, 33.5, 34.5]
adour_nh4_o = [0.035, 0.055, 0.035, 0.025, 0.035, 0.03, 0.01, 0.035, 0.035, 0.01, 0.08, 0.04, 0.045, 0.035, 0.07, 0.1,
               0.075, 0.03, 0.09, 0.015, 0.01, 0.01, 0.09, 0.045, 0.11, 0.035, 0.02, 0.01, 0.005, 0.025, 0.005, 0.005,
               0.01, 0.015, 0.015]
adour_no3 = [2.5, 2.3, 1.8, 1.3, 1.0, 0.7, 0.5, 0.2, 0.2, 0.2, 0.2, 0.3, 1.0, 2.0, 1.5, 1.0, 0.5, 0.1, 0.1, 0.1, 0.1,
             0.1, 0.1, 0.3, 2.0, 2.3, 1.5, 0.8, 0.5, 0.1, 0.1, 0.1, 0.1, 0.1, 0.1, 0.1]
adour_no3_t = [0.3, 1, 1.5, 2, 2.5, 3.5, 4.5, 5, 6, 8.5, 10.5, 12, 13, 13.5, 14, 15, 16, 17, 18, 19, 20, 21, 22, 23, 24,
               24.5, 25.5, 26, 27, 28, 29, 30, 31, 32, 33, 34]
adour_no3_o = [2.0, 1.8, 2.0, 1.5, 1.3, 1.3, 1.5, 0.5, 0.6, 0.3, 1.4, 0.6, 2.3, 1.3, 1.2, 0.9, 0.5, 0.2, 0.1, 0.1, 0.1,
               0.2, 0.5, 1.1, 1.9, 1.6, 1.8, 1.0, 0.6, 0.4, 0.2, 0.1, 0.1, 0.2, 0.1, 0.1]
adour_dsi = [2.6, 2.2, 1.8, 1.5, 1.0, 0.7, 0.5, 0.3, 0.3, 0.3, 0.3, 0.5, 1.5, 2.6, 2.0, 1.5, 0.8, 0.2, 0.2, 0.2, 0.2, 0.2,
             0.2, 0.5, 2.5, 2.8, 1.8, 1.0, 0.6, 0.2, 0.2, 0.2, 0.2, 0.2, 0.2, 0.2]
adour_dsi_t = [0.3, 1, 1.5, 2, 2.5, 3.5, 4.5, 5.5, 6, 8.5, 12, 13, 13.5, 14, 14.5, 15.5, 17, 18, 19, 20, 21, 22, 24, 24.5,
               25, 26, 27, 28, 29, 30, 31, 32, 33, 34]
adour_dsi_o = [2.7, 2.7, 2.4, 2.3, 2.6, 1.4, 0.8, 0.5, 0.4, 2.2, 1.0, 2.7, 2.9, 0.4, 1.6, 0.4, 0.2, 0.1, 0.1, 0.2, 0.3,
               2.2, 2.4, 2.4, 2.5, 1.3, 0.4, 1.7, 0.3, 0.1, 0.2, 0.3, 0.1, 0.1]
adour_toc = [3.0, 2.0, 1.5, 1.0, 0.6, 0.3, 0.3, 0.3, 0.3, 0.3, 0.3, 0.5, 1.5, 2.5, 1.5, 0.8, 0.2, 0.2, 0.2, 0.2, 0.2, 0.2,
             0.2, 0.5, 1.5, 1.8, 1.0, 0.5, 0.2, 0.2, 0.2, 0.2, 0.2, 0.2, 0.2, 0.4]
adour_do = [9.5, 9.8, 9.3, 8.5, 8.2, 8.0, 7.5, 6.5, 6.0, 5.8, 6.5, 8.0, 9.0, 9.6, 9.2, 8.5, 7.8, 7.0, 6.3, 5.8, 5.6, 5.8,
            6.3, 7.5, 8.5, 9.5, 9.3, 8.8, 8.0, 7.5, 7.0, 6.5, 6.0, 5.5, 5.0, 6.5]
adour_do_t = [0.3, 1, 1.5, 2.5, 3.5, 4.5, 5.5, 6.5, 8, 9.5, 11, 12.5, 13, 13.5, 14, 15, 16, 17, 18, 19, 20, 21, 22, 23,
              24, 25, 26, 27, 28, 29, 30, 31, 32, 33, 34]
adour_do_o = [10.5, 10.5, 11, 10.3, 10.3, 10, 8.5, 8, 7.8, 8.5, 8.5, 9, 9.8, 10, 9.5, 8.8, 8.5, 8.2, 7.8, 7.6, 7.6, 7.8,
              8.0, 9, 9.6, 10, 10, 8.5, 8.0, 7.8, 7.6, 7.6, 7.5, 7.8, 7.8]
adour_chl = [0.5, 0.6, 1.0, 0.8, 0.6, 0.8, 1.0, 0.8, 0.5, 0.4, 0.3, 0.3, 0.3, 0.5, 0.8, 1.2, 0.8, 0.6, 0.5, 0.4, 0.3, 0.3,
             0.5, 0.8, 0.4, 0.3, 0.5, 0.8, 1.2, 1.0, 0.8, 0.6, 0.5, 0.5, 0.4, 0.3]
adour_chl_t = [0.5, 1, 1.5, 2.5, 3.5, 5, 6.5, 8, 9.5, 12.5, 13.5, 14.5, 16, 17, 18, 19.5, 21, 22.5, 24, 25, 26, 27, 28,
               29, 30, 31, 32, 33, 34]
adour_chl_o = [2, 3, 2.5, 1.5, 1, 0.5, 1, 0.5, 1.5, 0.5, 1.5, 1, 1, 0.5, 1, 0.5, 0.5, 1, 0.3, 0.5, 2, 1, 0.5, 2, 1.5, 1,
               0.5, 1, 0.5]

somme_sal = [29, 27, 28, 29, 28.5, 29, 29.5, 29, 29, 29.5, 30, 30, 29, 28, 27, 25, 26, 28, 29, 30, 30, 30, 30, 30, 29.5,
             29, 28.5, 28, 28, 27, 28, 29, 29, 30, 30, 29.5]
somme_sal_t = [0.3, 1, 1.5, 2.5, 3.5, 4.5, 5.5, 6.5, 8.5, 10, 12.5, 13.5, 14.5, 15.5, 16.5, 17.5, 18.5, 19.5, 21, 22.5,
               24.5, 25.5, 26.5, 27.5, 28.5, 29.5, 30.5, 32, 34.5]
somme_sal_o = [30.5, 31, 31.5, 32, 32.5, 33, 32.5, 33, 17, 32, 32, 32, 32, 32, 32.5, 32.5, 32, 31.5, 32, 32, 32, 32.5, 33,
               31.5, 32.5, 32, 31, 32.5, 32.5]
somme_po4 = [0.028, 0.025, 0.02, 0.018, 0.018, 0.02, 0.02, 0.02, 0.022, 0.025, 0.025, 0.025, 0.028, 0.025, 0.02, 0.015,
             0.012, 0.012, 0.015, 0.015, 0.018, 0.02, 0.022, 0.025, 0.025, 0.022, 0.02, 0.018, 0.018, 0.02, 0.02, 0.022,
             0.022, 0.025, 0.025, 0.025]
somme_po4_t = [0.3, 1, 1.5, 2.5, 3.5, 4.5, 5.5, 6.5, 8, 9.5, 12, 13, 14, 15, 16, 17, 18, 19, 20, 21, 24, 25, 26, 27, 28,
               29, 30, 31, 32, 33, 34, 35]
somme_po4_o = [0.03, 0.04, 0.025, 0.01, 0.01, 0.005, 0.01, 0.015, 0.02, 0.025, 0.03, 0.02, 0.01, 0.01, 0.005, 0.005,
               0.01, 0.01, 0.005, 0.01, 0.025, 0.02, 0.005, 0.005, 0.005, 0.01, 0.005, 0.01, 0.02, 0.02, 0.03, 0.025]
somme_nh4 = [0.02, 0.015, 0.015, 0.017, 0.018, 0.02, 0.02, 0.02, 0.02, 0.02, 0.02, 0.02, 0.025, 0.02, 0.02, 0.02, 0.02,
             0.015, 0.015, 0.015, 0.025, 0.025, 0.025, 0.03, 0.03, 0.025, 0.02, 0.02, 0.02, 0.02, 0.02, 0.025, 0.025,
             0.025, 0.025, 0.025]
somme_nh4_t = [0.3, 1, 1.5, 2, 2.5, 3, 3.5, 4.5, 5.5, 6.5, 7.5, 9, 12, 13, 14, 15, 16, 17, 18, 19, 20, 21, 22.5, 24, 25,
               25.5, 26, 27, 28, 29, 32.7, 34.2, 34.8, 35.2]
somme_nh4_o = [0.035, 0.03, 0.015, 0.005, 0.02, 0.005, 0.01, 0.015, 0.01, 0.015, 0.015, 0.04, 0.01, 0.005, 0.005, 0.01,
               0.02, 0.015, 0.02, 0.02, 0.025, 0.03, 0.035, 0.03, 0.01, 0.005, 0.03, 0.035, 0.01, 0.005, 0.055, 0.165,
               0.105, 0.093]
somme_no3 = [1.2, 1.3, 1.1, 1.0, 0.9, 1.0, 1.0, 0.9, 1.0, 1.1, 1.2, 1.2, 1.1, 1.3, 1.5, 1.4, 1.0, 0.7, 0.5, 0.5, 0.6, 0.8,
             0.9, 1.0, 1.0, 1.1, 1.2, 1.2, 1.1, 1.0, 0.9, 0.8, 0.8, 0.9, 0.8, 0.9]
somme_no3_t = [0.3, 1, 1.5, 2.5, 3.5, 4.5, 5.5, 7, 8.5, 10, 12, 13, 14, 15, 16, 17, 18, 19, 20, 21, 22, 24, 25, 26, 27,
               28, 29, 30, 31, 32, 33, 34, 35]
somme_no3_o = [0.7, 0.5, 0.4, 0.3, 0.3, 0.3, 0.3, 1.3, 0.3, 0.3, 0.5, 0.4, 0.3, 0.2, 0.1, 0.1, 0.2, 0.2, 0.3, 0.4, 0.5,
               0.5, 0.3, 0.2, 0.2, 0.3, 0.5, 0.4, 0.3, 0.5, 0.9, 0.5, 0.8]
somme_dsi = [1.1, 1.2, 1.0, 0.9, 0.9, 1.0, 1.0, 1.0, 1.1, 1.2, 1.2, 1.3, 1.3, 1.4, 1.4, 1.3, 1.2, 1.0, 1.0, 1.1, 1.0, 1.1,
             1.2, 1.1, 1.1, 1.0, 1.1, 1.3, 1.4, 1.2, 1.3, 1.2, 1.1, 1.1, 1.1, 1.0]
somme_dsi_t = [0.3, 1, 1.5, 2.5, 3.5, 4.5, 5.5, 6.5, 7.5, 9, 10.5, 12, 13, 14, 15, 16, 17, 18, 19, 20, 21, 24, 25, 26, 27,
               28, 29, 30, 31, 32, 33, 34, 35]
somme_dsi_o = [0.8, 0.5, 0.3, 0.2, 0.1, 0.2, 0.2, 0.1, 1.0, 1.0, 0.7, 0.9, 0.5, 0.2, 0.1, 0.1, 0.1, 0.1, 0.1, 0.2, 0.5,
               0.5, 0.2, 0.1, 0.1, 0.3, 0.5, 0.2, 0.6, 1.0, 0.8, 0.5, 0.5]
somme_toc = [0.5, 0.6, 0.5, 0.5, 0.4, 0.5, 0.4, 0.5, 0.5, 0.4, 0.5, 0.5, 0.4, 0.4, 0.4, 0.3, 0.3, 0.3, 0.3, 0.3, 0.3, 0.3,
             0.4, 0.4, 0.4, 0.4, 0.5, 0.5, 0.4, 0.5, 0.5, 0.7, 0.5, 0.5, 0.4, 0.4]
somme_do = [9.5, 9.8, 10, 9.8, 9.5, 9.0, 8.8, 8.5, 8.7, 9.0, 9.3, 9.6, 10.0, 10.8, 10.5, 10.0, 9.5, 9.0, 8.5, 8.3, 8.3,
            8.6, 9.0, 9.5, 9.8, 10.0, 9.5, 9.0, 8.8, 8.5, 8.5, 8.8, 9.0, 9.3, 9.5, 9.8]
somme_do_t = [0.3, 1, 1.5, 2, 2.5, 3.5, 4.5, 5.5, 6.5, 7.5, 8.5, 10, 12, 12.5, 13, 14, 14.5, 15.5, 16.5, 17.5, 18.5, 19.5,
              20.5, 21.5, 22.5, 24, 25, 25.5, 26, 26.5, 27, 28, 29, 30, 31, 32, 33, 34, 35]
somme_do_o = [10, 10.5, 11, 11.5, 10, 10.5, 10, 9.5, 10, 9, 9.0, 9.5, 10.5, 11.5, 11.8, 12.2, 11, 10, 9, 8.5, 8.8, 9.5,
              9.5, 9.5, 9.8, 10.5, 11, 10.5, 10, 9.5, 9, 9.0, 8.7, 9, 8.5, 9.0, 10, 10.5, 9.8]
somme_chl = [1.2, 1.5, 2.0, 3.0, 4.5, 7.0, 10.0, 9.5, 6.0, 3.5, 2.0, 1.8, 2.0, 3.0, 4.5, 5.0, 6.5, 9.0, 10.0, 8.0, 5.0,
             3.0, 1.5, 1.0, 1.0, 1.2, 2.0, 3.0, 4.5, 7.0, 9.5, 11.0, 9.0, 5.0, 3.0, 1.5]
somme_chl_t = [0, 0.7, 1.5, 2, 2.8, 3.4, 3.7, 4.1, 4.8, 5.3, 6.1, 7.4, 8.5, 10.7, 12.6, 13.7, 14.4, 15.8, 17.6, 19.5,
               21.5, 22.3, 23.9, 26.6, 27.2, 27.6, 28.2, 28.8, 29.5, 29.7, 30.2, 30.8, 31.9, 33.3, 35.2, 35.9]
somme_chl_o = [0.9, 2, 2.1, 12.6, 16.2, 29, 15.7, 17.8, 21.3, 18.3, 23.7, 15.1, 25.9, 3.5, 1.4, 13.8, 25.4, 19, 17.6,
               20.5, 8.8, 19, 3.8, 1.1, 6.9, 11.6, 26.4, 21.6, 24.1, 19, 4.7, 6.9, 28.8, 14.5, 4.5, 2.1]

vilaine_sal = [5, 8, 15, 25, 27, 27, 27, 28, 27, 25, 20, 14, 20, 15, 22, 27, 28, 29, 29, 29, 29, 28, 26, 20, 15, 17, 22,
               25, 26, 27, 28, 28, 27, 27, 26, 26]
vilaine_sal_t = [0.3, 1, 1.5, 2.5, 3, 4, 4.5, 5.5, 6.5, 7.5, 8.5, 9.5, 10.5, 12, 12.5, 13.5, 14, 15, 16, 17, 17.5, 18.5,
                 19.5, 20.5, 21.5, 22.5, 24, 25, 25.5, 27, 28, 29, 30, 31, 32, 33, 34, 35]
vilaine_sal_o = [2, 3.5, 4, 27, 26, 30, 29, 28, 29, 30, 29.5, 28, 25, 12, 10, 32, 32, 31, 32, 33, 34, 34, 33, 32, 30, 29,
                 29, 26, 30, 30, 29, 31, 33, 33.5, 33, 32.5, 32, 31.5]
vilaine_po4 = [0.05, 0.04, 0.03, 0.025, 0.03, 0.035, 0.03, 0.03, 0.03, 0.03, 0.03, 0.035, 0.035, 0.02, 0.015, 0.015, 0.02,
               0.025, 0.03, 0.035, 0.04, 0.04, 0.04, 0.035, 0.03, 0.025, 0.02, 0.015, 0.02, 0.03, 0.04, 0.035, 0.03,
               0.025, 0.025, 0.025]
vilaine_po4_t = [0.3, 1, 1.5, 2.5, 3.5, 4.5, 5.5, 6.5, 7.5, 8.5, 10, 11, 12, 13, 14, 15, 16, 17, 18, 19, 20, 21, 22, 23,
                 24, 25, 26, 27, 28, 29, 30, 31, 32, 33, 34, 35]
vilaine_po4_o = [0.035, 0.03, 0.025, 0.03, 0.025, 0.03, 0.03, 0.035, 0.03, 0.03, 0.035, 0.03, 0.03, 0.02, 0.01, 0.005,
                 0.01, 0.02, 0.025, 0.03, 0.035, 0.05, 0.045, 0.04, 0.035, 0.03, 0.02, 0.015, 0.01, 0.02, 0.04, 0.05,
                 0.05, 0.025, 0.03, 0.03]
vilaine_nh4 = [0.06, 0.055, 0.05, 0.05, 0.045, 0.05, 0.055, 0.05, 0.045, 0.05, 0.045, 0.045, 0.05, 0.05, 0.045, 0.045,
               0.04, 0.04, 0.04, 0.035, 0.035, 0.035, 0.03, 0.035, 0.035, 0.04, 0.04, 0.035, 0.03, 0.03, 0.035, 0.04,
               0.03, 0.025, 0.03, 0.045]
vilaine_nh4_t = [0.3, 1, 1.5, 2, 3, 3.5, 4.5, 5, 6, 6.5, 7, 8, 9, 9.5, 10, 11, 12, 13, 13.5, 14, 15, 16, 17, 18, 19, 20,
                 21, 21.5, 24, 25, 26, 27, 28, 29, 31, 32, 33, 33.5, 35.5]
vilaine_nh4_o = [0.05, 0.06, 0.04, 0.025, 0.015, 0.02, 0.05, 0.075, 0.055, 0.045, 0.1, 0.085, 0.06, 0.05, 0.03, 0.11,
                 0.05, 0.08, 0.05, 0.02, 0.025, 0.015, 0.01, 0.02, 0.005, 0.02, 0.075, 0.075, 0.03, 0.035, 0.035, 0.03,
                 0.002, 0.003, 0.145, 0.155, 0.12, 0.115, 0.08]
vilaine_no3 = [5.5, 4.5, 3.0, 2.0, 1.2, 0.6, 0.3, 0.2, 0.3, 0.6, 1.5, 3.0, 4.0, 3.0, 2.5, 1.8, 1.2, 0.8, 0.5, 0.3, 0.3,
               0.6, 1.5, 2.5, 4.0, 4.0, 3.0, 2.0, 1.5, 1.0, 0.5, 0.3, 0.2, 0.3, 0.5, 0.8]
vilaine_no3_t = [0, 0.5, 1, 2.5, 3, 4, 4.5, 5, 5.5, 6.5, 7.5, 8.5, 10, 11, 12, 12.5, 13.5, 14.5, 15.5, 16.5, 17.5, 18.5,
                 19.5, 20.5, 21.5, 24, 24.5, 25.5, 26, 27, 28, 29, 30, 31, 32, 33, 34, 35]
vilaine_no3_o = [5.8, 5.5, 4.8, 2.5, 1.2, 0.6, 0.8, 0.3, 0.4, 0.3, 0.3, 0.4, 2.8, 3.2, 6.5, 3.5, 2.0, 0.8, 0.6, 0.3, 0.3,
                 0.2, 0.2, 0.3, 0.5, 3.0, 2.5, 2.0, 0.8, 0.5, 0.3, 0.2, 0.2, 0.2, 0.2, 0.4, 0.5, 0.5]
vilaine_dsi = [3.8, 3.0, 2.2, 1.5, 1.0, 0.6, 0.5, 0.5, 0.7, 1.2, 2.0, 3.0, 3.5, 2.8, 2.0, 1.5, 1.0, 0.6, 0.4, 0.3, 0.4,
               0.7, 1.2, 2.0, 3.2, 3.0, 2.0, 1.3, 1.0, 0.8, 0.7, 0.7, 0.7, 0.8, 0.9, 1.2]
vilaine_dsi_t = [0, 0.5, 1, 2, 2.5, 3.5, 4.5, 5.5, 6.5, 7.5, 9, 10, 10.5, 12, 13, 14, 15, 16, 17, 18, 19, 20, 21, 22, 24,
                 25, 25.5, 26, 27, 28, 29, 30, 31, 32, 33, 34, 35]
vilaine_dsi_o = [3.8, 3.6, 3.0, 0.5, 0.5, 0.5, 0.5, 0.6, 0.6, 1.0, 3.0, 3.2, 3.1, 2.8, 1.8, 1.1, 0.3, 0.4, 0.4, 0.4, 0.4,
                 0.8, 1.5, 2.5, 2.0, 2.0, 0.2, 0.1, 0.8, 0.7, 0.8, 0.8, 0.7, 0.8, 1.0, 1.0, 0.8]
vilaine_toc = [8.5, 7.0, 3.0, 1.5, 1.2, 1.1, 1.0, 1.0, 1.1, 1.2, 1.3, 1.8, 3.0, 4.5, 3.0, 1.5, 0.8, 0.5, 0.5, 0.5, 0.4,
               0.4, 0.5, 0.8, 1.5, 3.5, 2.2, 1.5, 1.2, 1.0, 0.9, 0.8, 0.8, 0.8, 0.9, 1.4]
vilaine_do = [9.5, 9.0, 8.5, 8.0, 7.5, 7.8, 8.0, 8.3, 8.5, 8.8, 9.2, 9.5, 10.0, 9.8, 9.3, 9.0, 8.8, 8.5, 8.3, 8.2, 8.3,
              8.5, 8.8, 9.2, 9.8, 9.5, 9.0, 8.5, 8.0, 8.0, 8.3, 8.6, 8.9, 9.2, 9.5, 10.0]
vilaine_do_t = [0, 0.5, 1, 2, 3, 4, 5, 6, 7, 8, 9, 10, 11, 12, 13, 14, 15, 16, 17, 18, 19, 20, 21, 22, 24, 25, 26, 27, 28,
                29, 30, 31, 32, 33, 34, 35]
vilaine_do_o = [12, 10.5, 10.8, 10.5, 10.0, 9.8, 8.5, 8.0, 8.3, 9.0, 9.5, 10.0, 10.5, 10.8, 10.5, 9.5, 9.0, 8.3, 8.0, 7.8,
                8.0, 8.2, 8.5, 9.0, 9.8, 9.5, 9.3, 8.5, 8.0, 8.3, 7.5, 6.0, 5.8, 7.5, 7.8, 8.0]
vilaine_chl = [3.6, 3.5, 3.4, 4.5, 4.5, 3.2, 8.0, 11.0, 7.0, 4.5, 2.5, 2.0, 1.5, 2.0, 3.5, 4.5, 4.5, 5.5, 9.5, 7.5, 4.0,
               2.5, 1.8, 1.2, 1.2, 1.8, 2.5, 3.0, 4.5, 4.0, 5.0, 7.5, 10.5, 6.0, 2.5, 2.0]

# ---- layout (pixels of the 1089x1113 canvas) ----
W, H = 1089, 1113
col_left = [58, 210, 362, 514, 667, 818, 970]
ax_w = 110
row_top = [105, 228, 353, 476, 599, 722, 845, 976]
row_bot = [216, 339, 465, 587, 708, 832, 956, 1076]

# visual thickness of the (noisy, daily) simulated band
thick = {("seine", "sal"): 6, ("seine", "po4"): 4, ("seine", "no3"): 5, ("seine", "dsi"): 4, ("seine", "chl"): 6.5,
         ("seine", "nh4"): 3, ("seine", "do"): 3.5, ("loire", "sal"): 3.5, ("loire", "dsi"): 3, ("loire", "toc"): 3,
         ("gironde", "sal"): 7, ("charente", "sal"): 4, ("adour", "sal"): 3, ("vilaine", "sal"): 3.5,
         ("vilaine", "nh4"): 4, ("vilaine", "no3"): 3.5, ("vilaine", "toc"): 3, ("somme", "chl"): 3.5,
         ("vilaine", "chl"): 3.5, ("charente", "no3"): 3, ("charente", "dsi"): 3}

fig = plt.figure(figsize=(W / 100, H / 100), dpi=100)
t_sim = np.arange(36) + 0.5

col_axes = []
for c, st in enumerate(keys):
    for r, var in enumerate(variables):
        ax = fig.add_axes([col_left[c] / W, 1 - row_bot[r] / H, ax_w / W, (row_bot[r] - row_top[r]) / H])
        sim = globals()[f"{st}_{var}"]
        ax.axvline(12, color="#d2d2d2", lw=1.2, zorder=0.5)
        ax.axvline(24, color="#d2d2d2", lw=1.2, zorder=0.5)
        ax.plot(t_sim, sim, color="red", lw=thick.get((st, var), 2.2), solid_joinstyle="round", zorder=2)
        if f"{st}_{var}_t" in globals():
            ax.plot(globals()[f"{st}_{var}_t"], globals()[f"{st}_{var}_o"], "o", color="black", ms=5,
                    mec="none", zorder=3, clip_on=False)
        ax.set_xlim(0, 36)
        ax.set_ylim(0, ymax[r])
        ax.set_yticks(yticks[r])
        ax.set_yticklabels(yticklabels[r])
        ax.set_xticks(year_ticks)
        if r == len(variables) - 1:
            ax.set_xticklabels(year_labels)
        else:
            ax.set_xticklabels([])
        ax.tick_params(axis="y", labelsize=6.5, length=2.5, width=0.8, pad=2, colors="#222222")
        ax.tick_params(axis="x", labelsize=6.5, length=0, pad=5, colors="#222222")
        for s in ["top", "right"]:
            ax.spines[s].set_visible(False)
        for s in ["left", "bottom"]:
            ax.spines[s].set_color("#333333")
            ax.spines[s].set_linewidth(1.3)
        ax.set_facecolor("none")
        if r == 0:
            col_axes.append(ax)

# grey 2015 band over each column (drawn on top, so 2015 data look lighter)
for c, ax in enumerate(col_axes):
    tr = mtransforms.blended_transform_factory(ax.transData, fig.transFigure)
    fig.add_artist(Rectangle((11.6, 1 - row_bot[-1] / H), 12.0, (row_bot[-1] - row_top[0]) / H, transform=tr,
                             facecolor="#dcdcdc", alpha=0.45, edgecolor="none", zorder=10))

# column titles
for c, name in enumerate(stations):
    xc = (col_left[c] + ax_w / 2 + 8) / W
    fig.text(xc, 1 - 55 / H, name, ha="center", va="center", fontsize=10.5, weight="bold")
    fig.text(xc, 1 - 73 / H, distance[c], ha="center", va="center", fontsize=10.5, weight="normal")
    fig.text(xc, 1 - 91 / H, "the sea mouth", ha="center", va="center", fontsize=10.5, weight="normal")

# row labels
for r, lab in enumerate(ylabels):
    fig.text(19 / W, 1 - (row_top[r] + row_bot[r]) / 2 / H, lab, rotation=90, ha="center", va="center",
             fontsize=9.5, weight="bold")

fig.text(545 / W, 1 - 1104 / H, "Year", ha="center", va="center", fontsize=9.5, weight="bold")

# legend box
fig.add_artist(Rectangle((353 / W, 1 - 34 / H), 428 / W, 28 / H, transform=fig.transFigure, fill=False,
                         edgecolor="#333333", lw=1.0))
fig.add_artist(Line2D([398 / W], [1 - 20 / H], marker="o", color="black", ms=6, ls="none",
                      transform=fig.transFigure))
fig.text(413 / W, 1 - 20 / H, "Observation", ha="left", va="center", fontsize=10, weight="bold")
fig.add_artist(Line2D([580 / W, 652 / W], [1 - 20 / H, 1 - 20 / H], color="red", lw=1.5, transform=fig.transFigure))
fig.text(660 / W, 1 - 20 / H, "Simulation", ha="left", va="center", fontsize=10, weight="bold")

fig.savefig("out.png", dpi=100)
